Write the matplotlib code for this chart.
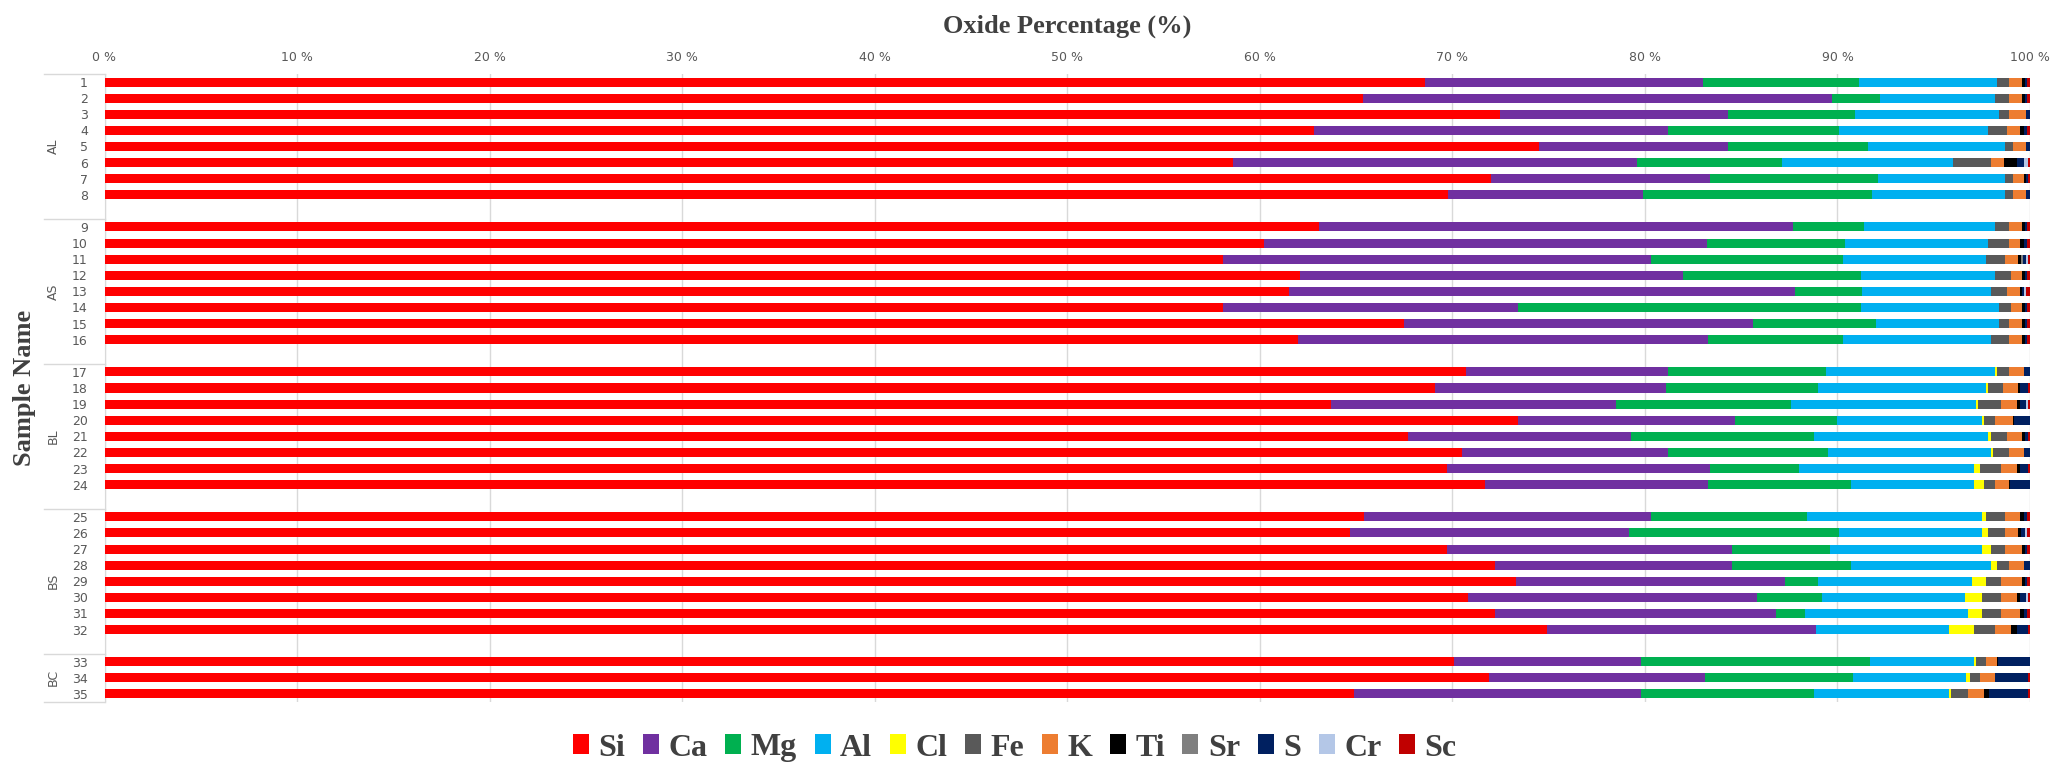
import numpy as np
import matplotlib
matplotlib.use('Agg')
from matplotlib import pyplot as plt
from matplotlib.patches import Patch
import matplotlib.transforms as mtransforms

# grupos e mostras
groups = ['AL', 'AS', 'BL', 'BS', 'BC']
group_sizes = [8, 8, 8, 8, 3]
samples = [str(i) for i in range(1, 36)]

elements = ['Si', 'Ca', 'Mg', 'Al', 'Cl', 'Fe', 'K', 'Ti', 'Sr', 'S', 'Cr', 'Sc']
colors = ['#FF0000', '#7030A0', '#00B050', '#00B0F0', '#FFFF00', '#595959',
          '#ED7D31', '#000000', '#7F7F7F', '#002060', '#B4C7E7', '#C00000']

# oxide percentages, samples 1..35
Si = [68.6, 65.35, 72.5, 62.8, 74.5, 58.6, 72.0, 69.8,
      63.1, 60.2, 58.1, 62.1, 61.5, 58.1, 67.5, 62.0,
      70.7, 69.1, 63.7, 73.4, 67.7, 70.5, 69.7, 71.7,
      65.4, 64.7, 69.7, 72.2, 73.3, 70.8, 72.2, 74.9,
      70.1, 71.9, 64.9]
Ca = [14.4, 24.35, 11.8, 18.4, 9.8, 21.0, 11.4, 10.1,
      24.6, 23.0, 22.2, 19.9, 26.3, 15.3, 18.1, 21.3,
      10.5, 12.0, 14.8, 11.3, 11.6, 10.7, 13.7, 11.6,
      14.9, 14.5, 14.8, 12.3, 14.0, 15.0, 14.6, 14.0,
      9.7, 11.2, 14.9]
Mg = [8.1, 2.5, 6.6, 8.9, 7.3, 7.5, 8.7, 11.9,
      3.7, 7.2, 10.0, 9.2, 3.5, 17.8, 6.4, 7.0,
      8.2, 7.9, 9.1, 5.3, 9.5, 8.3, 4.6, 7.4,
      8.1, 10.9, 5.1, 6.2, 1.7, 3.4, 1.5, 0.0,
      11.9, 7.7, 9.0]
Al = [7.2, 6.0, 7.5, 7.7, 7.1, 8.9, 6.6, 6.9,
      6.8, 7.4, 7.4, 7.0, 6.7, 7.2, 6.4, 7.7,
      8.8, 8.7, 9.6, 7.5, 9.0, 8.5, 9.1, 6.4,
      9.1, 7.4, 7.9, 7.3, 8.0, 7.4, 8.5, 6.9,
      5.4, 5.9, 7.0]
Cl = [0, 0, 0, 0, 0, 0, 0, 0,
      0, 0, 0, 0, 0, 0, 0, 0,
      0.1, 0.1, 0.1, 0.1, 0.2, 0.1, 0.3, 0.5,
      0.2, 0.3, 0.5, 0.3, 0.7, 0.9, 0.7, 1.3,
      0.1, 0.2, 0.1]
Fe = [0.6, 0.7, 0.5, 1.0, 0.4, 2.0, 0.4, 0.4,
      0.7, 1.1, 1.0, 0.8, 0.8, 0.6, 0.5, 0.9,
      0.6, 0.8, 1.2, 0.6, 0.8, 0.8, 1.1, 0.6,
      1.0, 0.9, 0.7, 0.6, 0.8, 1.0, 1.0, 1.1,
      0.5, 0.5, 0.9]
K = [0.7, 0.7, 0.9, 0.7, 0.7, 0.65, 0.6, 0.7,
     0.7, 0.6, 0.7, 0.6, 0.7, 0.6, 0.7, 0.7,
     0.8, 0.8, 0.8, 0.9, 0.8, 0.8, 0.8, 0.7,
     0.8, 0.7, 0.9, 0.8, 1.1, 0.8, 1.0, 0.8,
     0.6, 0.8, 0.8]
Ti = [0.15, 0.15, 0, 0.18, 0, 0.65, 0.1, 0,
      0.15, 0.18, 0.15, 0.15, 0.1, 0.15, 0.15, 0.15,
      0, 0.1, 0.2, 0.05, 0.15, 0, 0.2, 0.05,
      0.2, 0.15, 0.15, 0, 0.15, 0.2, 0.2, 0.3,
      0.05, 0, 0.25]
Sr = [0, 0, 0, 0, 0, 0, 0, 0,
      0, 0, 0.1, 0, 0, 0, 0, 0,
      0, 0, 0, 0, 0, 0, 0, 0,
      0, 0, 0, 0, 0, 0, 0, 0,
      0, 0, 0]
S = [0.12, 0.12, 0.2, 0.15, 0.2, 0.38, 0.1, 0.2,
     0.12, 0.15, 0.15, 0.1, 0.1, 0.12, 0.12, 0.12,
     0.3, 0.4, 0.3, 0.85, 0.15, 0.3, 0.4, 1.05,
     0.15, 0.2, 0.12, 0.3, 0.12, 0.3, 0.15, 0.6,
     1.65, 1.7, 2.05]
Cr = [0, 0, 0, 0, 0, 0.24, 0, 0,
      0, 0, 0.1, 0, 0.1, 0, 0, 0,
      0, 0, 0.1, 0, 0, 0, 0, 0,
      0, 0.1, 0, 0, 0, 0.1, 0, 0,
      0, 0, 0]
Sc = [0.13, 0.13, 0, 0.17, 0, 0.08, 0.1, 0,
      0.13, 0.17, 0.1, 0.15, 0.2, 0.13, 0.13, 0.13,
      0, 0.1, 0.1, 0, 0.1, 0, 0.1, 0,
      0.15, 0.15, 0.13, 0, 0.13, 0.1, 0.15, 0.1,
      0, 0.1, 0.1]

data = np.array([Si, Ca, Mg, Al, Cl, Fe, K, Ti, Sr, S, Cr, Sc], dtype=float)
data = data / data.sum(axis=0) * 100   # 100 % apilado, como en Excel

# posicions: un oco despois de cada grupo
ypos = []
bounds = [-0.5]
centers = []
slot = 0
for g, n in enumerate(group_sizes):
    start = slot
    ypos += list(range(slot, slot + n))
    slot += n
    if g < len(group_sizes) - 1:
        slot += 1
    bounds.append(slot - 0.5)
    centers.append((start + slot - 1) / 2)
ypos = np.array(ypos)

fig = plt.figure(figsize=(20.67, 7.83), dpi=100)
ax = fig.add_axes([104.5 / 2067, 1 - 702 / 783, 1925.5 / 2067, 628 / 783])

left = np.zeros(len(samples))
for i, el in enumerate(elements):
    ax.barh(ypos, data[i], left=left, height=0.56, color=colors[i], linewidth=0, zorder=3)
    left += data[i]

ax.set_xlim(0, 100)
ax.set_ylim(bounds[-1], bounds[0])
ax.xaxis.tick_top()
ax.set_xticks(np.arange(0, 101, 10))
ax.set_xticklabels([str(v) + ' %' for v in range(0, 101, 10)], color='#595959', fontsize=9)
ax.set_yticks(ypos)
ax.set_yticklabels(samples, color='#595959', fontsize=9)
ax.tick_params(length=0, pad=7)
ax.tick_params(axis='y', pad=12)
ax.grid(axis='x', color='#D9D9D9', linewidth=1, zorder=0)
for sp in ['top', 'right', 'bottom']:
    ax.spines[sp].set_visible(False)
ax.spines['left'].set_color('#D9D9D9')

# etiquetas de grupo e separadores
trans = mtransforms.blended_transform_factory(ax.transAxes, ax.transData)
for b in bounds:
    ax.plot([-0.0314, 0], [b, b], color='#D9D9D9', lw=1, transform=trans, clip_on=False)
for g, c in zip(groups, centers):
    ax.text(-0.0265, c, g, rotation=90, ha='center', va='center', color='#595959',
            fontsize=9, transform=trans)

fig.text(1067 / 2067, 1 - 26 / 783, 'Oxide Percentage (%)', ha='center', va='center',
         family='Liberation Serif', weight='bold', fontsize=19, color='#404040')
fig.text(25 / 2067, 1 - 388 / 783, 'Sample Name', ha='center', va='center', rotation=90,
         family='Liberation Serif', weight='bold', fontsize=19, color='#404040')

handles = [Patch(facecolor=c, edgecolor='none') for c in colors]
leg = fig.legend(handles, elements, loc='center', bbox_to_anchor=(0.491, 1 - 748 / 783), ncol=12,
                 frameon=False, handlelength=0.5, handleheight=0.6, handletextpad=0.3,
                 columnspacing=0.55, prop={'family': 'Liberation Serif', 'weight': 'bold', 'size': 23})
for t in leg.get_texts():
    t.set_color('#404040')

fig.savefig('out.png', dpi=100)
